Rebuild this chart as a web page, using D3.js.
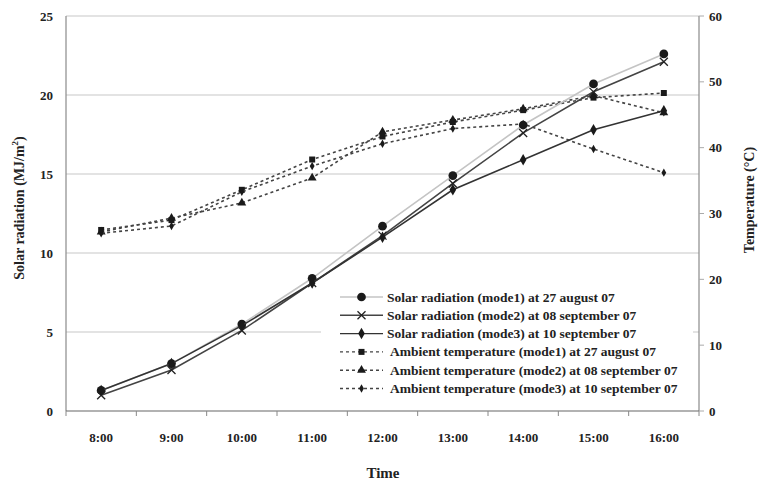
<!DOCTYPE html>
<html>
<head>
<meta charset="utf-8">
<script src="https://cdn.jsdelivr.net/npm/d3@7.9.0/dist/d3.min.js"></script>
<style>
  body { margin: 0; background: #fff; }
  svg text { font-family: "Liberation Serif", "Times New Roman", serif; font-weight: bold; fill: #222; }
</style>
</head>
<body>
<svg id="chart" width="759" height="485"></svg>
<script>
// Data
const hours = ['8:00', '9:00', '10:00', '11:00', '12:00', '13:00', '14:00', '15:00', '16:00'];

const solarMode1 = [1.3, 3.0, 5.5, 8.4, 11.7, 14.9, 18.1, 20.7, 22.6];
const solarMode2 = [1.0, 2.6, 5.1, 8.1, 11.1, 14.4, 17.6, 20.2, 22.1];
const solarMode3 = [1.3, 3.0, 5.4, 8.1, 11.0, 14.0, 15.9, 17.8, 19.0];

const tempMode1 = [27.5, 29.0, 33.6, 38.2, 41.7, 43.9, 45.7, 47.6, 48.3];
const tempMode2 = [27.2, 29.3, 31.6, 35.4, 42.4, 44.2, 45.9, 47.9, 45.3];
const tempMode3 = [27.0, 28.1, 33.3, 37.2, 40.6, 42.9, 43.6, 39.8, 36.2];

const leftTicks = [0, 5, 10, 15, 20, 25];
const rightTicks = [0, 10, 20, 30, 40, 50, 60];

const seriesNames = [
  'Solar radiation (mode1) at 27 august 07',
  'Solar radiation (mode2) at 08 september 07',
  'Solar radiation (mode3) at 10 september 07',
  'Ambient temperature (mode1) at 27 august 07',
  'Ambient temperature (mode2) at 08 september 07',
  'Ambient temperature (mode3) at 10 september 07'
];

const svg = d3.select('#chart');
const plotLeft = 66, plotRight = 699, plotTop = 16, plotBottom = 411;

const x = d3.scaleBand().domain(hours).range([plotLeft, plotRight]).padding(0);
const cx = d => x(d) + x.bandwidth() / 2;
const yL = d3.scaleLinear().domain([0, 25]).range([plotBottom, plotTop]);
const yR = d3.scaleLinear().domain([0, 60]).range([plotBottom, plotTop]);

// gridlines
svg.append('g')
  .selectAll('line')
  .data(leftTicks.filter(d => d > 0))
  .join('line')
  .attr('x1', plotLeft).attr('x2', plotRight)
  .attr('y1', d => yL(d)).attr('y2', d => yL(d))
  .attr('stroke', '#c8c8c8').attr('stroke-width', 1.2);

// axes lines
const axisColor = '#8a8a8a';
svg.append('line').attr('x1', plotLeft).attr('x2', plotLeft).attr('y1', plotTop).attr('y2', plotBottom)
  .attr('stroke', axisColor).attr('stroke-width', 1.2);
svg.append('line').attr('x1', plotRight).attr('x2', plotRight).attr('y1', plotTop).attr('y2', plotBottom)
  .attr('stroke', axisColor).attr('stroke-width', 1.2);
svg.append('line').attr('x1', plotLeft).attr('x2', plotRight).attr('y1', plotBottom).attr('y2', plotBottom)
  .attr('stroke', '#666').attr('stroke-width', 1.2);

// x tick marks at band edges
const edges = hours.map(h => x(h)).concat([plotRight]);
svg.append('g').selectAll('line').data(edges).join('line')
  .attr('x1', d => d).attr('x2', d => d)
  .attr('y1', plotBottom).attr('y2', plotBottom + 5)
  .attr('stroke', '#888');

// right tick marks
svg.append('g').selectAll('line').data(rightTicks).join('line')
  .attr('x1', plotRight).attr('x2', plotRight + 5)
  .attr('y1', d => yR(d)).attr('y2', d => yR(d))
  .attr('stroke', '#aaa');

// tick labels
svg.append('g').selectAll('text').data(hours).join('text')
  .attr('x', d => cx(d)).attr('y', 442)
  .attr('text-anchor', 'middle').attr('font-size', 13).text(d => d);

svg.append('g').selectAll('text').data(leftTicks).join('text')
  .attr('x', 53).attr('y', d => yL(d) + 4.5)
  .attr('text-anchor', 'end').attr('font-size', 13).text(d => d);

svg.append('g').selectAll('text').data(rightTicks).join('text')
  .attr('x', 709).attr('y', d => yR(d) + 4.5)
  .attr('text-anchor', 'start').attr('font-size', 13).text(d => d);

// axis titles
const yt = svg.append('text')
  .attr('transform', 'translate(24,208) rotate(-90)')
  .attr('text-anchor', 'middle').attr('font-size', 14);
yt.append('tspan').text('Solar radiation (MJ/m');
yt.append('tspan').attr('dy', -6).attr('font-size', 9).text('2');
yt.append('tspan').attr('dy', 6).text(')');

svg.append('text')
  .attr('transform', 'translate(754,200) rotate(-90)')
  .attr('text-anchor', 'middle').attr('font-size', 14)
  .text('Temperature (°C)');

svg.append('text').attr('x', 383).attr('y', 478)
  .attr('text-anchor', 'middle').attr('font-size', 15).text('Time');

// series definitions
const series = [
  { name: seriesNames[0], values: solarMode1, y: yL, color: '#c4c4c4', dash: null, marker: 'circle' },
  { name: seriesNames[1], values: solarMode2, y: yL, color: '#444', dash: null, marker: 'x' },
  { name: seriesNames[2], values: solarMode3, y: yL, color: '#333', dash: null, marker: 'diamond' },
  { name: seriesNames[3], values: tempMode1, y: yR, color: '#444', dash: '3,3', marker: 'square' },
  { name: seriesNames[4], values: tempMode2, y: yR, color: '#444', dash: '3,3', marker: 'triangle' },
  { name: seriesNames[5], values: tempMode3, y: yR, color: '#444', dash: '3,3', marker: 'dot' }
];

function drawMarker(g, type, px, py) {
  if (type === 'x') {
    g.append('path')
      .attr('d', `M${px - 4},${py - 4}L${px + 4},${py + 4}M${px - 4},${py + 4}L${px + 4},${py - 4}`)
      .attr('stroke', '#222').attr('stroke-width', 1.3).attr('fill', 'none');
    return;
  }
  const sym = {
    circle: [d3.symbolCircle, 60],
    diamond: [d3.symbolDiamond, 38],
    square: [d3.symbolSquare, 36],
    triangle: [d3.symbolTriangle, 34],
    dot: [d3.symbolDiamond, 20]
  }[type];
  g.append('path')
    .attr('d', d3.symbol().type(sym[0]).size(sym[1])())
    .attr('transform', `translate(${px},${py})`)
    .attr('fill', '#1a1a1a');
}

const line = (yScale) => d3.line().x((d, i) => cx(hours[i])).y(d => yScale(d));

// draw temperature first, then solar
[3, 4, 5, 0, 1, 2].forEach(k => {
  const s = series[k];
  const g = svg.append('g');
  g.append('path')
    .datum(s.values)
    .attr('d', line(s.y))
    .attr('fill', 'none')
    .attr('stroke', s.color)
    .attr('stroke-width', 1.6)
    .attr('stroke-dasharray', s.dash);
  s.values.forEach((v, i) => drawMarker(g, s.marker, cx(hours[i]), s.y(v)));
});

// legend
const legend = svg.append('g');
legend.append('rect')
  .attr('x', 321).attr('y', 288).attr('width', 372).attr('height', 114)
  .attr('fill', '#fff');

series.forEach((s, i) => {
  const ly = 297 + i * 18.3;
  const g = legend.append('g');
  g.append('line')
    .attr('x1', 340).attr('x2', 383).attr('y1', ly).attr('y2', ly)
    .attr('stroke', s.color).attr('stroke-width', 1.4)
    .attr('stroke-dasharray', s.dash);
  drawMarker(g, s.marker, 361.5, ly);
  g.append('text')
    .attr('x', s.dash ? 390 : 387).attr('y', ly + 4.5)
    .attr('font-size', 13.5).text(s.name);
});
</script>
</body>
</html>
